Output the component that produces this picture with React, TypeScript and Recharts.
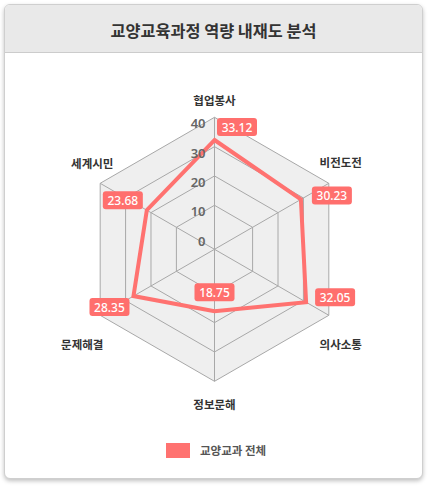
import {
  Legend,
  PolarAngleAxis,
  PolarGrid,
  PolarRadiusAxis,
  Radar,
  RadarChart,
} from 'recharts'

const categories = ['협업봉사', '비전도전', '의사소통', '정보문해', '문제해결', '세계시민']
const totalScores = [33.12, 30.23, 32.05, 18.75, 28.35, 23.68]
const radiusTicks = [0, 10, 20, 30, 40]
const seriesName = '교양교과 전체'

const rows = categories.map((name, i) => ({ name, value: totalScores[i] }))

const LINE = '#ff7270'
const BOX = '#ff6f6d'

// nudges for the category names and the value boxes, per spoke
const nameShift = [
  [0, -9],
  [5, -17],
  [5, 25],
  [0, 15],
  [-11, 25],
  [-1, -16],
]
const boxShift = [
  [22.5, -13],
  [31, -4],
  [29, -5],
  [0, -19],
  [-24, 11],
  [-24, -10],
]

function AngleTick(props: any) {
  const { x, y, payload, index } = props
  const [dx, dy] = nameShift[index] ?? [0, 0]
  return (
    <text
      x={x + dx}
      y={y + dy}
      textAnchor="middle"
      dominantBaseline="central"
      fontSize={11.5}
      fontWeight={700}
      fill="#333"
      fontFamily="'Noto Sans CJK KR', sans-serif"
    >
      {payload.value}
    </text>
  )
}

function RadiusTick(props: any) {
  const { x, y, payload } = props
  return (
    <text
      x={x - 9}
      y={y + 6}
      textAnchor="end"
      dominantBaseline="central"
      fontSize={13}
      fontWeight={600}
      fill="#666"
      fontFamily="'Noto Sans', sans-serif"
    >
      {payload.value}
    </text>
  )
}

function ValueLabel(props: any) {
  const { x, y, value, index } = props
  const [dx, dy] = boxShift[index] ?? [0, 0]
  const bx = x + dx
  const by = y + dy
  return (
    <g>
      <rect x={bx - 20} y={by - 9} width={40} height={18} rx={3} fill={BOX} />
      <text
        x={bx}
        y={by}
        textAnchor="middle"
        dominantBaseline="central"
        fontSize={12}
        fontWeight={500}
        fill="#fff"
        fontFamily="'Noto Sans', sans-serif"
      >
        {Number(value).toFixed(2)}
      </text>
    </g>
  )
}

function LegendBox() {
  return (
    <div
      style={{
        display: 'flex',
        alignItems: 'center',
        gap: 10,
        paddingLeft: 166,
        fontFamily: "'Noto Sans CJK KR', sans-serif",
        fontSize: 11.5,
        fontWeight: 700,
        color: '#555',
      }}
    >
      <span style={{ width: 24, height: 15, background: LINE, display: 'inline-block' }} />
      <span>{seriesName}</span>
    </div>
  )
}

// invisible series so the helper axes (background, rings, tick labels) get a scale
function ghost(id: string) {
  return (
    <Radar
      key={id}
      radiusAxisId={id}
      dataKey="value"
      stroke="none"
      fill="none"
      dot={false}
      legendType="none"
      isAnimationActive={false}
    />
  )
}

export default function App() {
  return (
    <div style={{ position: 'relative', width: 429, height: 499 }}>
      <style>{'body{margin:0}'}</style>
      <div
        style={{
          position: 'absolute',
          left: 4,
          top: 4,
          width: 417,
          height: 473,
          border: '1px solid #cfcfcf',
          borderRadius: 6,
          background: '#fff',
          boxShadow: '0 2px 4px rgba(0,0,0,0.25)',
          overflow: 'hidden',
        }}
      >
        <div
          style={{
            height: 48,
            background: '#e9e9e9',
            borderBottom: '1px solid #cccccc',
            display: 'flex',
            alignItems: 'center',
            justifyContent: 'center',
            paddingTop: 3,
            boxSizing: 'border-box',
            fontFamily: "'Noto Sans CJK KR', sans-serif",
            fontSize: 16.3,
            fontWeight: 700,
            color: '#333',
          }}
        >
          교양교육과정 역량 내재도 분석
        </div>
      </div>
      <div style={{ position: 'absolute', left: 0, top: 0 }}>
        <RadarChart
          width={429}
          height={499}
          data={rows}
          cx={214.5}
          cy={249.3}
          outerRadius={132}
          margin={{ top: 0, right: 0, bottom: 0, left: 0 }}
        >
          <PolarRadiusAxis radiusAxisId="bg" domain={[-5, 40]} ticks={[40]} tick={false} axisLine={false} />
          <PolarRadiusAxis radiusAxisId="grid" domain={[-5, 40]} ticks={radiusTicks.slice(1)} tick={false} axisLine={false} />
          <PolarGrid radiusAxisId="bg" gridType="polygon" radialLines={false} fill="#efefef" stroke="none" />
          <PolarGrid radiusAxisId="grid" gridType="polygon" stroke="#a8a8a8" strokeWidth={1} />
          <PolarAngleAxis dataKey="name" tick={AngleTick} tickLine={false} axisLine={false} />
          <PolarRadiusAxis
            radiusAxisId="label"
            angle={90}
            domain={[-5, 40]}
            ticks={radiusTicks}
            tick={RadiusTick}
            tickLine={false}
            axisLine={false}
          />
          <PolarRadiusAxis radiusAxisId="data" domain={[0, 40]} tick={false} axisLine={false} />
          {ghost('bg')}
          {ghost('grid')}
          {ghost('label')}
          <Radar
            radiusAxisId="data"
            name={seriesName}
            dataKey="value"
            stroke={LINE}
            strokeWidth={4}
            strokeLinejoin="miter"
            fill="none"
            fillOpacity={0}
            dot={false}
            label={ValueLabel}
            isAnimationActive={false}
          />
          <Legend
            content={LegendBox}
            wrapperStyle={{ position: 'absolute', top: 442, left: 0, width: 429, bottom: 'auto' }}
          />
        </RadarChart>
      </div>
    </div>
  )
}
